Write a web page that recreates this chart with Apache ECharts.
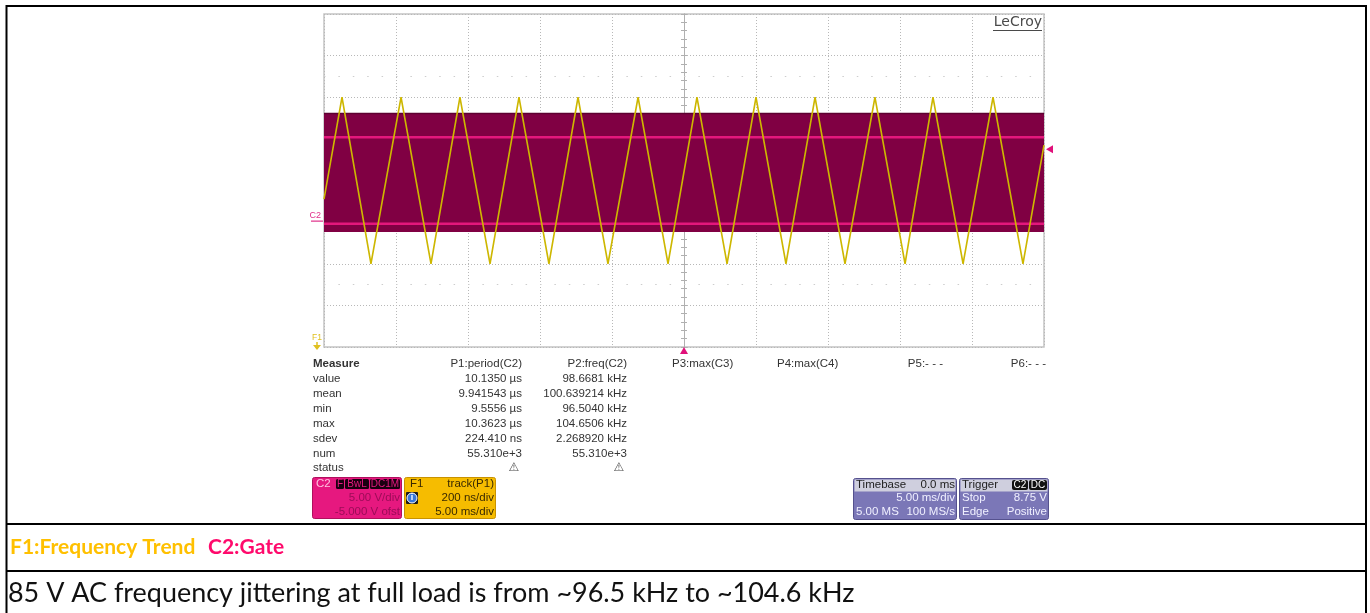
<!DOCTYPE html>
<html><head><meta charset="utf-8">
<script src="https://cdn.jsdelivr.net/npm/echarts@6/dist/echarts.min.js"></script>
<style>html,body{margin:0;padding:0;background:#fff;}#c{width:1370px;height:613px;}</style>
</head><body><div id="c"></div>
<script>
// ---- data ----
// F1: track(P1) – period of C2 over time (ms -> µs)
const trackTimeMs = [-25, -23.75, -21.74, -19.65, -17.57, -15.56, -13.47, -11.46, -9.38, -7.36, -5.28, -3.19, -1.11, 0.90, 2.99, 5.00, 7.08, 9.10, 11.18, 13.26, 15.35, 17.29, 19.38, 21.46, 23.54, 25];
const trackPeriodUs = [9.87, 10.36, 9.56, 10.36, 9.56, 10.36, 9.56, 10.36, 9.56, 10.36, 9.56, 10.36, 9.56, 10.36, 9.56, 10.36, 9.56, 10.36, 9.56, 10.36, 9.56, 10.36, 9.56, 10.36, 9.56, 10.13];
// C2: gate signal envelope (V)
const gateTimeMs = [-25, 25];
const gateBottomV = -1.2;
const gateTopV = 13.1;
const gateHighV = [10.2, 10.2];
const gateLowV = [-0.2, -0.2];
const triggerLevelV = 8.75;
const triggerTimeMs = 0;
const c2GroundV = 0;
// measurement table
const measureHeaders = ['P1:period(C2)', 'P2:freq(C2)', 'P3:max(C3)', 'P4:max(C4)', 'P5:- - -', 'P6:- - -'];
const measureRows = ['value', 'mean', 'min', 'max', 'sdev', 'num', 'status'];
const p1Values = ['10.1350 µs', '9.941543 µs', '9.5556 µs', '10.3623 µs', '224.410 ns', '55.310e+3'];
const p2Values = ['98.6681 kHz', '100.639214 kHz', '96.5040 kHz', '104.6506 kHz', '2.268920 kHz', '55.310e+3'];
const captionF1 = 'F1:Frequency Trend';
const captionC2 = 'C2:Gate';
const noteText = '85 V AC frequency jittering at full load is from ~96.5 kHz to ~104.6 kHz';

const chart = echarts.init(document.getElementById('c'), null, {renderer: 'canvas'});
const pair = (xs, ys) => xs.map((x, i) => [x, ys[i]]);
const gridLine = {show: true, lineStyle: {color: '#b8b8b8', type: [1, 2], width: 1}};
const centerAxis = (inside) => ({
  type: 'value', min: -4, max: 4, interval: 1, position: 'left', offset: -360,
  axisLine: {show: true, onZero: false, lineStyle: {color: '#b0b0b0', width: 1}},
  axisTick: {show: true, inside: inside, length: 3, lineStyle: {color: '#b0b0b0'}},
  minorTick: {show: true, splitNumber: 5, length: 3, lineStyle: {color: '#b0b0b0'}},
  axisLabel: {show: false}, splitLine: {show: false}
});
const SANS = '"Liberation Sans", Arial, sans-serif';

chart.setOption({
  animation: false,
  grid: {left: 324, top: 14, width: 720, height: 333, show: true, borderColor: '#c4c4c4', borderWidth: 1.5, backgroundColor: '#fff'},
  xAxis: {type: 'value', min: -25, max: 25, interval: 5, axisLine: {show: false}, axisTick: {show: false}, axisLabel: {show: false}, splitLine: gridLine},
  yAxis: [
    {type: 'value', min: -15, max: 25, interval: 5, axisLine: {show: false}, axisTick: {show: false}, axisLabel: {show: false}, splitLine: gridLine},
    {type: 'value', min: 9.16, max: 10.76, show: false, splitLine: {show: false}},
    centerAxis(true),
    centerAxis(false)
  ],
  series: [
    {type: 'custom', name: 'C2 band', yAxisIndex: 0, silent: true, clip: true,
     encode: {x: [0, 1], y: [2, 3]},
     data: [[gateTimeMs[0], gateTimeMs[1], gateBottomV, gateTopV]],
     renderItem: (params, api) => {
       const a = api.coord([api.value(0), api.value(3)]);
       const b = api.coord([api.value(1), api.value(2)]);
       return {type: 'group', children: [
         {type: 'rect', shape: {x: a[0], y: a[1], width: b[0] - a[0], height: b[1] - a[1]}, style: {fill: '#800043'}},
         {type: 'line', shape: {x1: a[0], y1: a[1] + 0.5, x2: b[0], y2: a[1] + 0.5}, style: {stroke: '#5e0030', lineWidth: 1.5}}
       ]};
     }},
    {type: 'line', name: 'marks', yAxisIndex: 0, symbol: 'none', silent: true, data: [],
     markLine: {silent: true, symbol: 'none', label: {show: false},
       lineStyle: {color: '#cdcdcd', type: [1.5, 12.9], width: 1},
       data: [{yAxis: 17.5}, {yAxis: -7.5}]}},
    {type: 'line', name: 'C2 high', yAxisIndex: 0, symbol: 'none', silent: true,
     lineStyle: {color: '#e4177c', width: 2.5}, data: pair(gateTimeMs, gateHighV)},
    {type: 'line', name: 'C2 low', yAxisIndex: 0, symbol: 'none', silent: true,
     lineStyle: {color: '#e4177c', width: 2.5}, data: pair(gateTimeMs, gateLowV)},
    {type: 'line', name: 'F1', yAxisIndex: 1, symbol: 'none', silent: true, z: 5,
     lineStyle: {color: '#cdb700', width: 1.6}, data: pair(trackTimeMs, trackPeriodUs)}
  ]
});

// ---- decorations ----
const P = (x, y) => chart.convertToPixel({xAxisIndex: 0, yAxisIndex: 0}, [x, y]);
const g = [];
const txt = (x, y, text, o = {}) => g.push({type: 'text', silent: true, z: o.z || 10, style: {
  x: x, y: y, text: text, fill: o.fill || '#333', textAlign: o.align || 'left', textVerticalAlign: 'middle',
  fontSize: o.size || 11.5, fontFamily: o.family || SANS, fontWeight: o.weight || 'normal'}});
const rect = (x, y, w, h, fill, stroke, r, z) => g.push({type: 'rect', silent: true, z: z || 9,
  shape: {x: x, y: y, width: w, height: h, r: r || 0}, style: {fill: fill, stroke: stroke || null, lineWidth: 1}});
const line = (x1, y1, x2, y2, color, w) => g.push({type: 'line', silent: true, z: 10,
  shape: {x1: x1, y1: y1, x2: x2, y2: y2}, style: {stroke: color, lineWidth: w}});

// outer table borders
line(6.5, 6, 1366, 6, '#000', 2);
line(6.5, 5, 6.5, 613, '#000', 2);
line(1366, 5, 1366, 613, '#000', 2);
line(6, 524, 1367, 524, '#000', 2);
line(6, 571, 1367, 571, '#000', 2);

// LeCroy logo
txt(1042, 22, 'LeCroy', {align: 'right', size: 14, family: '"DejaVu Sans", sans-serif', fill: '#4a4a4a'});
line(993, 30.5, 1042, 30.5, '#4a4a4a', 1);

// C2 ground marker
const gnd = P(-25, c2GroundV);
txt(gnd[0] - 3, gnd[1] - 7, 'C2', {align: 'right', size: 9, fill: '#e0308a'});
line(gnd[0] - 13, gnd[1] - 1, gnd[0] - 1, gnd[1] - 1, '#e0308a', 1.2);
// F1 marker (offset below screen)
txt(317, 338, 'F1', {align: 'center', size: 8.5, fill: '#e0c020'});
g.push({type: 'polygon', silent: true, z: 10, shape: {points: [[313, 345], [321, 345], [317, 350]]}, style: {fill: '#e0c020'}});
line(317, 342, 317, 346, '#e0c020', 1.5);
// trigger time marker
const tt = P(triggerTimeMs, -15);
g.push({type: 'polygon', silent: true, z: 10, shape: {points: [[tt[0], tt[1]], [tt[0] - 4, tt[1] + 7], [tt[0] + 4, tt[1] + 7]]}, style: {fill: '#e0107a'}});
// trigger level marker
const tl = P(25, triggerLevelV);
g.push({type: 'polygon', silent: true, z: 10, shape: {points: [[tl[0] + 2, tl[1]], [tl[0] + 9, tl[1] - 4], [tl[0] + 9, tl[1] + 4]]}, style: {fill: '#e0107a'}});

// measurement table
const rowY0 = 364, rowDy = 14.9;
txt(313, rowY0, 'Measure', {weight: 'bold'});
const hdrX = [[522, 'right'], [627, 'right'], [672, 'left'], [777, 'left'], [943, 'right'], [1046, 'right']];
measureHeaders.forEach((h, i) => txt(hdrX[i][0], rowY0, h, {align: hdrX[i][1]}));
measureRows.forEach((r, i) => txt(313, rowY0 + rowDy * (i + 1), r));
p1Values.forEach((v, i) => txt(522, rowY0 + rowDy * (i + 1), v, {align: 'right'}));
p2Values.forEach((v, i) => txt(627, rowY0 + rowDy * (i + 1), v, {align: 'right'}));
txt(514, rowY0 + rowDy * 7, '⚠', {align: 'center', size: 12, weight: 'bold', family: '"DejaVu Sans", sans-serif', fill: '#444'});
txt(619, rowY0 + rowDy * 7, '⚠', {align: 'center', size: 12, weight: 'bold', family: '"DejaVu Sans", sans-serif', fill: '#444'});

// C2 box
rect(312.5, 477.5, 89, 41, '#e6187f', '#b0105e', 2);
txt(316, 484, 'C2', {fill: '#ffc0e0'});
rect(336, 479, 8, 10, '#1a0010', null, 1.5, 10);
rect(345, 479, 24, 10, '#1a0010', null, 1.5, 10);
rect(370, 479, 30, 10, '#1a0010', null, 1.5, 10);
txt(340, 484, 'F', {align: 'center', size: 10, fill: '#e6187f'});
txt(357, 484, 'BwL', {align: 'center', size: 10, fill: '#e6187f'});
txt(385, 484, 'DC1M', {align: 'center', size: 10, fill: '#e6187f'});
txt(400, 498, '5.00 V/div', {align: 'right', fill: '#9c0c58'});
txt(400, 512, '-5.000 V ofst', {align: 'right', fill: '#9c0c58'});
// F1 box
rect(404.5, 477.5, 91, 41, '#f6bc00', '#c89200', 2);
txt(410, 484, 'F1', {fill: '#3a2a00'});
txt(494, 484, 'track(P1)', {align: 'right', fill: '#3a2a00'});
rect(406, 492, 12, 12, '#1a1a1a', null, 1, 10);
g.push({type: 'circle', silent: true, z: 11, shape: {cx: 412, cy: 498, r: 5}, style: {fill: '#3a78d8', stroke: '#fff', lineWidth: 1}});
txt(412, 498, 'i', {align: 'center', size: 9, weight: 'bold', fill: '#fff', z: 12});
txt(494, 498, '200 ns/div', {align: 'right', fill: '#3a2a00'});
txt(494, 512, '5.00 ms/div', {align: 'right', fill: '#3a2a00'});
// Timebase box
rect(853.5, 478.5, 103, 41, '#7b77b7', '#55518e', 2);
rect(854.5, 479.5, 101, 12, '#cfcfde', null, 0, 9);
txt(856, 485, 'Timebase', {fill: '#222'});
txt(955, 485, '0.0 ms', {align: 'right', fill: '#222'});
txt(955, 498, '5.00 ms/div', {align: 'right', fill: '#f0f0ff'});
txt(856, 512, '5.00 MS', {fill: '#f0f0ff'});
txt(955, 512, '100 MS/s', {align: 'right', fill: '#f0f0ff'});
// Trigger box
rect(959.5, 478.5, 89, 41, '#7b77b7', '#55518e', 2);
rect(960.5, 479.5, 87, 12, '#cfcfde', null, 0, 9);
txt(962, 485, 'Trigger', {fill: '#222'});
rect(1012, 480, 16, 10, '#111', null, 2, 10);
rect(1029, 480, 18, 10, '#111', null, 2, 10);
txt(1020, 485, 'C2', {align: 'center', size: 10, fill: '#fff'});
txt(1038, 485, 'DC', {align: 'center', size: 10, fill: '#fff'});
txt(962, 498, 'Stop', {fill: '#f0f0ff'});
txt(1047, 498, '8.75 V', {align: 'right', fill: '#f0f0ff'});
txt(962, 512, 'Edge', {fill: '#f0f0ff'});
txt(1047, 512, 'Positive', {align: 'right', fill: '#f0f0ff'});

// caption + note (note sized so it spans the same width as in the reference)
const mctx = document.createElement('canvas').getContext('2d');
mctx.font = '21px Lato';
const noteW = mctx.measureText(noteText).width || 660;
const noteSize = Math.max(20, Math.min(28, 21 * 847 / noteW));
txt(10, 547, captionF1, {size: 21, weight: 'bold', family: 'Lato, sans-serif', fill: '#ffc000'});
txt(208, 547, captionC2, {size: 21, weight: 'bold', family: 'Lato, sans-serif', fill: '#ff0a6c'});
txt(8, 593, noteText, {size: noteSize, family: 'Lato, sans-serif', fill: '#111'});

chart.setOption({graphic: {elements: g}});
</script></body></html>
